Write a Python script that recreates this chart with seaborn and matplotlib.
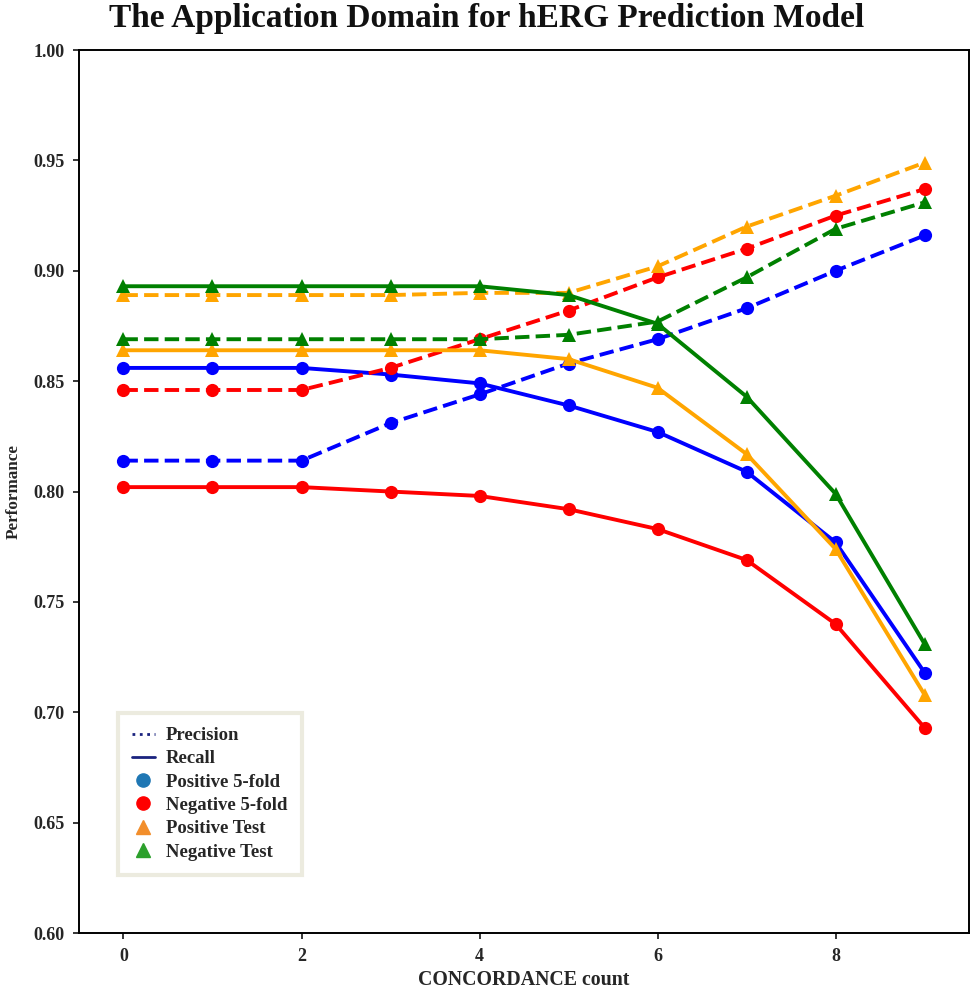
import numpy as np
import pandas as pd
import matplotlib
matplotlib.use("Agg")
import matplotlib.pyplot as plt
from matplotlib.lines import Line2D
import seaborn as sns

concordance = list(range(10))

pos5_recall = [0.856, 0.856, 0.856, 0.853, 0.849, 0.839, 0.827, 0.809, 0.777, 0.718]
pos5_precision = [0.814, 0.814, 0.814, 0.831, 0.844, 0.858, 0.869, 0.883, 0.900, 0.916]
neg5_recall = [0.802, 0.802, 0.802, 0.800, 0.798, 0.792, 0.783, 0.769, 0.740, 0.693]
neg5_precision = [0.846, 0.846, 0.846, 0.856, 0.869, 0.882, 0.897, 0.910, 0.925, 0.937]
postest_recall = [0.864, 0.864, 0.864, 0.864, 0.864, 0.860, 0.847, 0.817, 0.774, 0.708]
postest_precision = [0.889, 0.889, 0.889, 0.889, 0.890, 0.890, 0.902, 0.920, 0.934, 0.949]
negtest_recall = [0.893, 0.893, 0.893, 0.893, 0.893, 0.889, 0.876, 0.843, 0.799, 0.731]
negtest_precision = [0.869, 0.869, 0.869, 0.869, 0.869, 0.871, 0.877, 0.897, 0.919, 0.931]

series = [
    ("Positive 5-fold", "Precision", pos5_precision, "blue", "o"),
    ("Positive 5-fold", "Recall", pos5_recall, "blue", "o"),
    ("Negative 5-fold", "Precision", neg5_precision, "red", "o"),
    ("Negative 5-fold", "Recall", neg5_recall, "red", "o"),
    ("Positive Test", "Precision", postest_precision, "orange", "^"),
    ("Positive Test", "Recall", postest_recall, "orange", "^"),
    ("Negative Test", "Precision", negtest_precision, "green", "^"),
    ("Negative Test", "Recall", negtest_recall, "green", "^"),
]

legend_labels = ["Precision", "Recall", "Positive 5-fold", "Negative 5-fold",
                 "Positive Test", "Negative Test"]

sns.set_style("ticks")
plt.rcParams["font.family"] = ["Liberation Serif", "DejaVu Serif"]
plt.rcParams["font.weight"] = "bold"

fig = plt.figure(figsize=(9.74, 9.91), dpi=100)
ax = fig.add_axes([0.0811, 0.0585, 0.9138, 0.891])

for group, metric, vals, color, marker in series:
    df = pd.DataFrame({"x": concordance, "y": vals})
    sns.lineplot(data=df, x="x", y="y", ax=ax, color=color, marker=marker,
                 markersize=9.5, markeredgewidth=0, linewidth=2.8,
                 linestyle="--" if metric == "Precision" else "-")

ax.set_xlim(-0.5, 9.5)
ax.set_ylim(0.60, 1.00)
ax.set_xticks([0, 2, 4, 6, 8])
yt = np.arange(0.60, 1.001, 0.05)
ax.set_yticks(yt)
ax.set_yticklabels([f"{v:.2f}" for v in yt])
ax.tick_params(axis="both", labelsize=13, length=4.5, width=1.3, direction="out", pad=6)
for lab in ax.get_xticklabels() + ax.get_yticklabels():
    lab.set_fontweight("bold")
for sp in ax.spines.values():
    sp.set_linewidth(1.4)
    sp.set_color("black")
    sp.set_visible(True)

ax.set_xlabel("CONCORDANCE count", fontsize=14.3, fontweight="bold", labelpad=4)
ax.set_ylabel("Performance", fontsize=12.3, fontweight="bold", labelpad=8)
fig.suptitle("The Application Domain for hERG Prediction Model", fontsize=24,
             fontweight="bold", y=0.997, va="top", color="#111111")

handles = [
    Line2D([], [], color="#1a237e", linestyle=":", linewidth=2),
    Line2D([], [], color="#1a237e", linestyle="-", linewidth=2),
    Line2D([], [], color="#1f77b4", marker="o", linestyle="none", markersize=9.5),
    Line2D([], [], color="red", marker="o", linestyle="none", markersize=9.5),
    Line2D([], [], color="#f28e2b", marker="^", linestyle="none", markersize=9.5),
    Line2D([], [], color="#2ca02c", marker="^", linestyle="none", markersize=9.5),
]
leg = ax.legend(handles, legend_labels, loc="lower left", bbox_to_anchor=(0.044, 0.066),
                prop={"family": "Liberation Serif", "weight": "bold", "size": 13.5},
                frameon=True, fancybox=False, handlelength=1.2, handletextpad=0.6,
                borderpad=0.75, borderaxespad=0, labelspacing=0.33)
leg.get_frame().set_edgecolor("#e8e6d8")
leg.get_frame().set_linewidth(3)

fig.savefig("out.png", dpi=100)
